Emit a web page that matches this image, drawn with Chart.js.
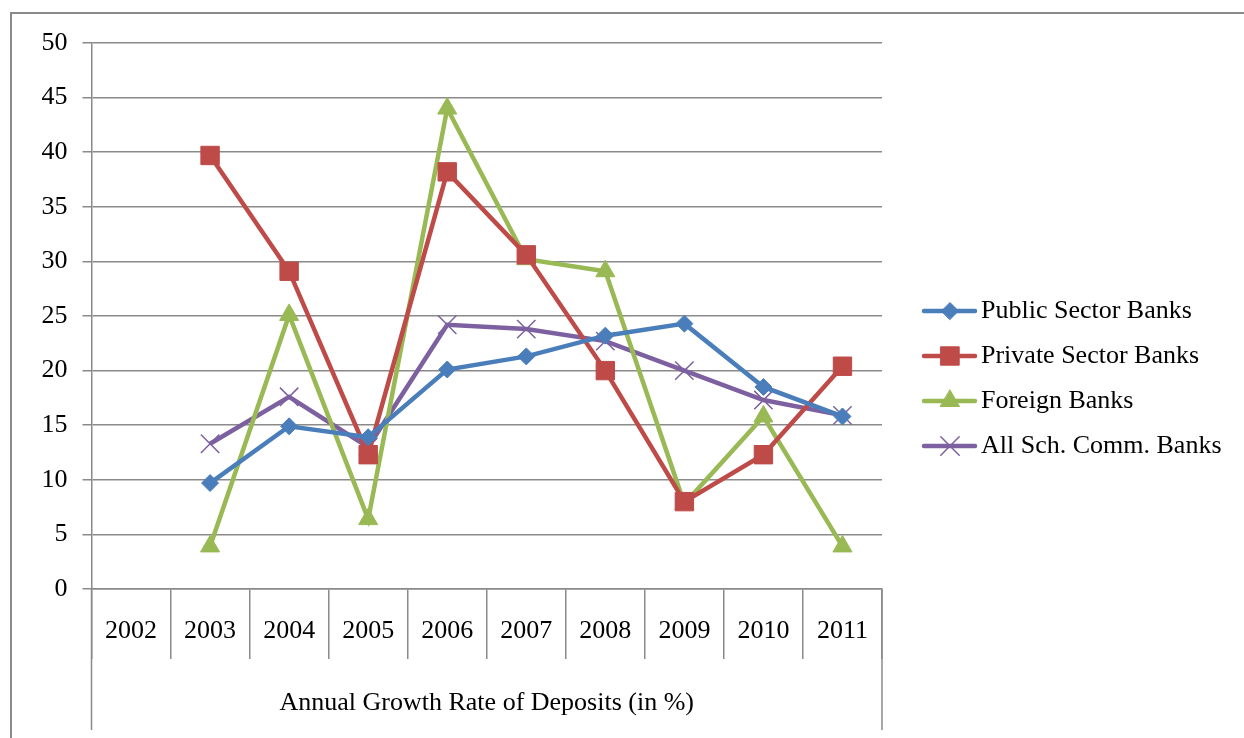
<!DOCTYPE html>
<html>
<head>
<meta charset="utf-8">
<title>Annual Growth Rate of Deposits</title>
<script src="https://cdn.jsdelivr.net/npm/chart.js@4.4.1/dist/chart.umd.min.js"></script>
<style>
  html, body { margin: 0; padding: 0; background: #fff; }
  #wrap { width: 1244px; height: 738px; }
</style>
</head>
<body>
<div id="wrap"><canvas id="depositChart" width="1244" height="738"></canvas></div>
<script>
// annual growth rate of deposits, % (no figures for 2002)
const years = ['2002', '2003', '2004', '2005', '2006', '2007', '2008', '2009', '2010', '2011'];
const publicSector  = [null, 9.7, 14.9, 13.9, 20.1, 21.3, 23.2, 24.3, 18.5, 15.8];
const privateSector = [null, 39.7, 29.1, 12.3, 38.2, 30.6, 20.0, 8.0, 12.3, 20.4];
const foreignBanks  = [null, 3.9, 25.1, 6.4, 44.0, 30.2, 29.1, 7.8, 15.8, 3.9];
const allScheduled  = [null, 13.3, 17.6, 13.0, 24.2, 23.8, 22.7, 20.0, 17.3, 15.9];
const yTicks = [0, 5, 10, 15, 20, 25, 30, 35, 40, 45, 50];

const seriesNames = ['Public Sector Banks', 'Private Sector Banks', 'Foreign Banks', 'All Sch. Comm. Banks'];
const seriesData = [publicSector, privateSector, foreignBanks, allScheduled];

const colors = ['#4A7EBB', '#BE4B48', '#98B954', '#7D60A0'];
const markers = ['rectRot', 'rect', 'triangle', 'crossRot'];
const markerSizes = [8.5, 13, 11, 13];
const markerLines = [1, 1, 1, 1.5];

const gridColor = '#8a8a8a';
const fontFamily = '"Liberation Serif", "Times New Roman", serif';
const fontSize = 26;

// legend placement, right of the plot
const legendTop = 311;
const legendGap = 45;

// little line + marker swatch for the legend
function legendIcon(i) {
    const c = document.createElement('canvas');
    c.width = 60;
    c.height = 30;
    const g = c.getContext('2d');
    g.strokeStyle = colors[i];
    g.lineWidth = 4.5;
    g.lineCap = 'round';
    g.beginPath();
    g.moveTo(4, 15);
    g.lineTo(55, 15);
    g.stroke();
    g.fillStyle = colors[i];
    g.lineWidth = markerLines[i];
    Chart.helpers.drawPoint(g, {
        pointStyle: markers[i],
        radius: markerSizes[i],
        borderWidth: markerLines[i],
        rotation: 0
    }, 30, 15);
    return c;
}
const icons = seriesNames.map((n, i) => legendIcon(i));

// outer border and the category table below the axis
const frame = {
    id: 'frame',
    beforeDraw(chart) {
        const ctx = chart.ctx;
        ctx.save();
        ctx.strokeStyle = gridColor;
        ctx.lineWidth = 2;
        ctx.strokeRect(11, 13, chart.width + 40, chart.height + 40);
        ctx.restore();
    },
    afterDraw(chart) {
        const {ctx, chartArea: a, scales: {x}} = chart;
        ctx.save();
        ctx.strokeStyle = gridColor;
        ctx.lineWidth = 1.5;
        ctx.beginPath();
        [a.left, a.right].forEach(px => {
            ctx.moveTo(px, a.bottom);
            ctx.lineTo(px, x.bottom + 16);
        });
        ctx.stroke();
        ctx.restore();
    }
};

// legend drawn by hand so it can sit in the wide right margin
const sideLegend = {
    id: 'sideLegend',
    afterDraw(chart) {
        const ctx = chart.ctx;
        const a = chart.chartArea;
        ctx.save();
        ctx.font = fontSize + 'px ' + fontFamily;
        ctx.fillStyle = '#000';
        ctx.textBaseline = 'middle';
        ctx.textAlign = 'left';
        chart.data.datasets.forEach((ds, i) => {
            const y = legendTop + i * legendGap;
            ctx.drawImage(icons[i], a.right + 38, y - 15);
            ctx.fillText(ds.label, a.right + 99, y);
        });
        ctx.restore();
    }
};

const datasets = seriesNames.map((name, i) => ({
    label: name,
    data: seriesData[i],
    borderColor: colors[i],
    backgroundColor: colors[i],
    borderWidth: 4.5,
    tension: 0,
    pointStyle: markers[i],
    pointRadius: markerSizes[i],
    pointBorderWidth: markerLines[i],
    pointBackgroundColor: colors[i],
    pointBorderColor: colors[i]
}));

const ctx = document.getElementById('depositChart').getContext('2d');
const depositChart = new Chart(ctx, {
    type: 'line',
    data: {
        labels: years,
        datasets: datasets
    },
    options: {
        responsive: false,
        animation: false,
        events: [],
        layout: {
            padding: { left: 11, top: 43, right: 362, bottom: 24 }
        },
        scales: {
            x: {
                offset: true,
                afterFit: s => { s.height = 125; },
                grid: {
                    offset: true,
                    drawOnChartArea: false,
                    tickLength: 70,
                    color: gridColor,
                    lineWidth: 1.5
                },
                border: { color: gridColor, width: 1.5 },
                ticks: {
                    color: '#000',
                    padding: -43,
                    maxRotation: 0,
                    font: { family: fontFamily, size: fontSize }
                },
                title: {
                    display: true,
                    text: 'Annual Growth Rate of Deposits (in %)',
                    color: '#000',
                    padding: { top: 0, bottom: -5 },
                    font: { family: fontFamily, size: fontSize }
                }
            },
            y: {
                min: 0,
                max: 50,
                afterFit: s => { s.width = 80.5; },
                afterBuildTicks: s => { s.ticks = yTicks.map(v => ({ value: v })); },
                grid: {
                    color: gridColor,
                    lineWidth: 1.5,
                    tickLength: 9
                },
                border: { color: gridColor, width: 1.5 },
                ticks: {
                    color: '#000',
                    padding: 15,
                    font: { family: fontFamily, size: fontSize }
                }
            }
        },
        plugins: {
            tooltip: { enabled: false },
            legend: { display: false }
        }
    },
    plugins: [frame, sideLegend]
});
</script>
</body>
</html>
